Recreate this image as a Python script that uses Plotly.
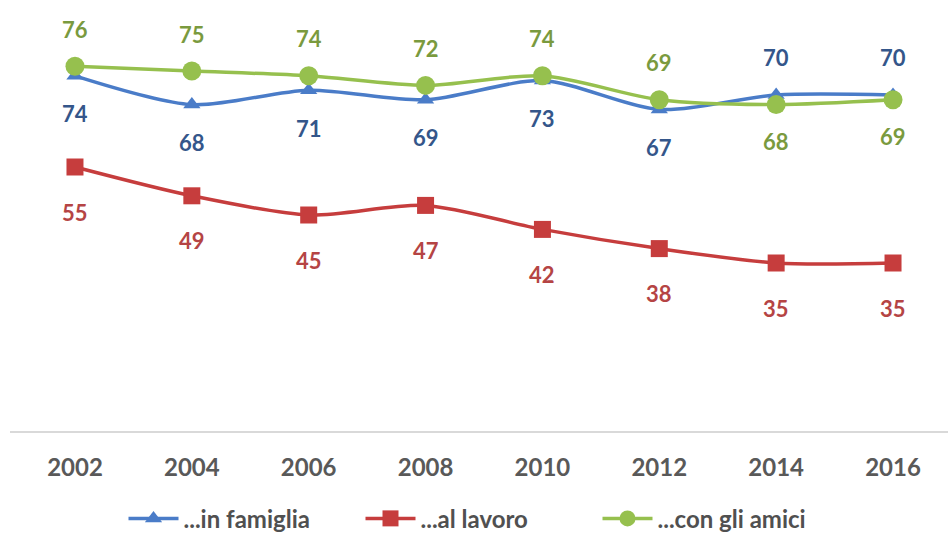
import plotly.graph_objects as go

years = [2002, 2004, 2006, 2008, 2010, 2012, 2014, 2016]
famiglia = [74, 68, 71, 69, 73, 67, 70, 70]
lavoro = [55, 49, 45, 47, 42, 38, 35, 35]
amici = [76, 75, 74, 72, 74, 69, 68, 69]

names = ["...in famiglia", "...al lavoro", "...con gli amici"]
line_colors = ["#4A7CC8", "#C63D3D", "#96C04E"]
label_colors = ["#34568A", "#B54444", "#7A9A3E"]
symbols = ["triangle-up", "square", "circle"]
sizes = [15, 17, 19]

# label side per point: +1 above, -1 below
side_famiglia = [-1, -1, -1, -1, -1, -1, 1, 1]
side_lavoro = [-1] * 8
side_amici = [1, 1, 1, 1, 1, 1, -1, -1]

FONT = "Lato"

fig = go.Figure()
series = [famiglia, lavoro, amici]
sides = [side_famiglia, side_lavoro, side_amici]
shifts = [38, 45, 37]

for vals, name, lc, sym, sz in zip(series, names, line_colors, symbols, sizes):
    fig.add_trace(go.Scatter(
        x=years, y=vals, name=name, mode="lines+markers",
        line=dict(color=lc, width=3.5, shape="spline", smoothing=0.8),
        marker=dict(symbol=sym, size=sz, color=lc),
    ))

for vals, side, col, sh in zip(series, sides, label_colors, shifts):
    for x, y, s in zip(years, vals, side):
        fig.add_annotation(
            x=x, y=y, text=str(y), showarrow=False,
            yshift=s * sh,
            font=dict(family=FONT, size=22, color=col, weight="bold"),
        )

fig.update_layout(
    width=948, height=540,
    margin=dict(l=10, r=0, t=47, b=109, autoexpand=False),
    paper_bgcolor="white", plot_bgcolor="white",
    font=dict(family=FONT, color="#595959"),
    showlegend=True,
    legend=dict(
        orientation="h", x=0.5, xanchor="center", y=-0.17, yanchor="top",
        font=dict(family=FONT, size=24, color="#505050", weight="bold"),
        entrywidth=172, entrywidthmode="pixels",
        itemwidth=50,
    ),
)
fig.update_xaxes(
    range=[2000.888, 2016.941], tickvals=years,
    ticktext=[str(y) for y in years],
    showgrid=False, zeroline=False, showline=True,
    linecolor="#D9D9D9", linewidth=2,
    tickfont=dict(family=FONT, size=24, color="#595959", weight="bold"),
    ticklabelstandoff=14,
)
fig.update_yaxes(range=[0, 80], visible=False)

fig.write_html("out.html")
